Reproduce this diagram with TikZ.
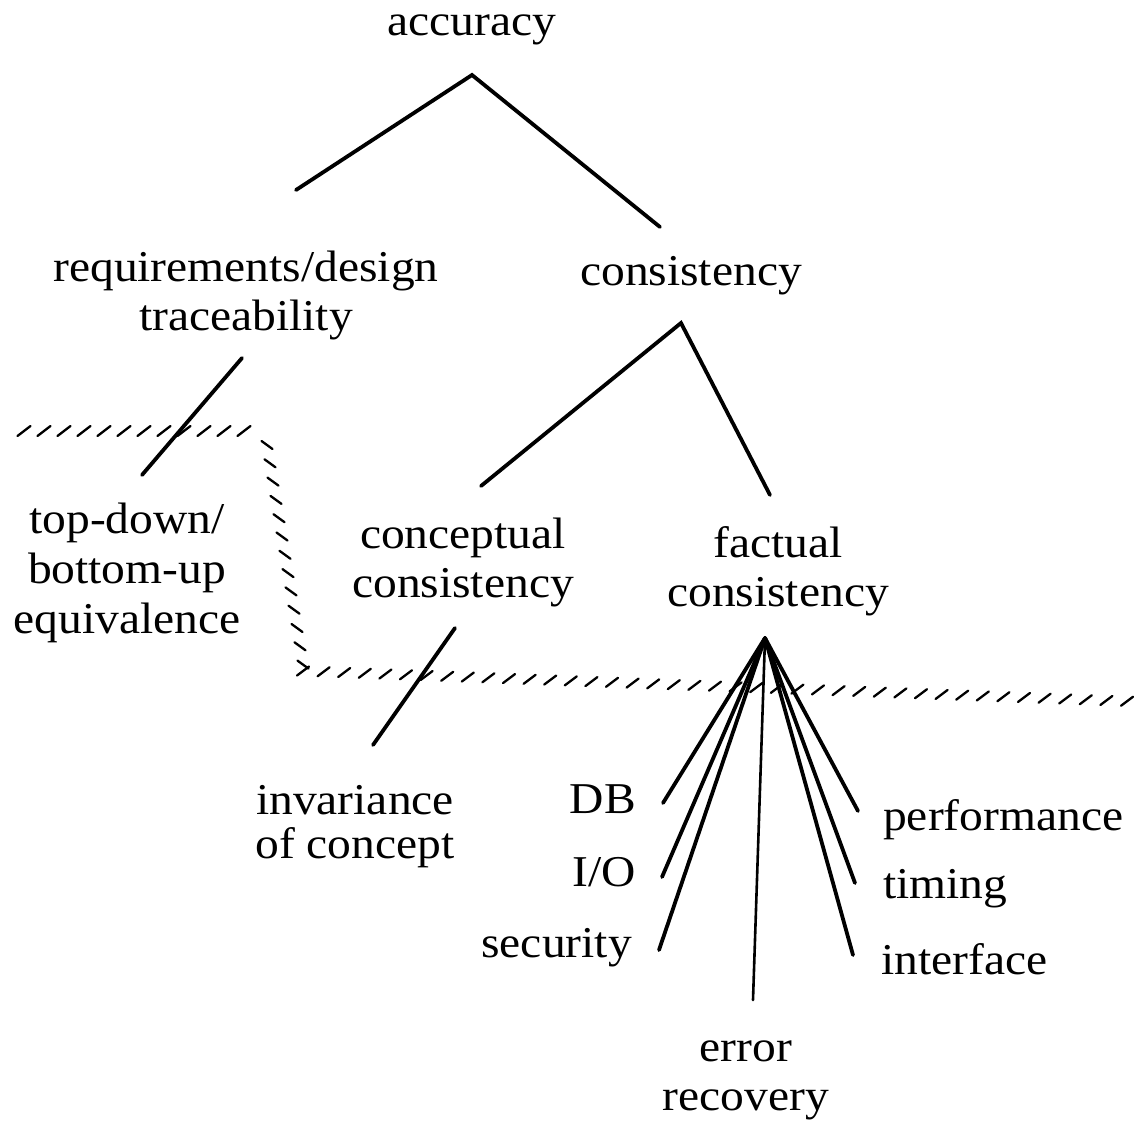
\documentclass[tikz,border=0pt]{standalone}
\usepackage{fontspec}
\setmainfont{Liberation Serif}[FakeStretch=1.08]
\begin{document}
\begin{tikzpicture}[x=1pt,y=-1pt,
  lbl/.style={font=\fontsize{44}{49}\selectfont, inner sep=0pt, align=center, anchor=base},
  branch/.style={line width=3.8pt, line cap=round},
  thinbranch/.style={line width=2.6pt, line cap=round},
  hatch/.style={line width=2.3pt, line cap=round}]
\useasboundingbox (0,0) rectangle (1136,1130);

% labels (the base anchor of a multi-line label sits on its last line)
\node[lbl] (acc)  at (472,35)  {accuracy};
\node[lbl] (req)  at (246,330) {requirements/design\\traceability};
\node[lbl] (cons) at (691,285) {consistency};
\node[lbl, font=\fontsize{44}{50}\selectfont] (tdb) at (127,633) {top-down/\\bottom-up\\equivalence};
\node[lbl] (ccon) at (463,597) {conceptual\\consistency};
\node[lbl] (fcon) at (778,606) {factual\\consistency};
\node[lbl, font=\fontsize{44}{44}\selectfont] (inv) at (355,858) {invariance\\of concept};
\node[lbl, anchor=base east] (db)  at (636,813) {DB};
\node[lbl, anchor=base east] (io)  at (636,886) {I/O};
\node[lbl, anchor=base east] (sec) at (632,957) {security};
\node[lbl] (err) at (746,1110) {error\\recovery};
\node[lbl, anchor=base west] (perf) at (883,830) {performance};
\node[lbl, anchor=base west] (tim)  at (883,898) {timing};
\node[lbl, anchor=base west] (intf) at (881,974) {interface};

% connector ends
\coordinate (acc-s)  at (472,75);
\coordinate (req-n)  at (296,190);
\coordinate (cons-n) at (660,227);
\coordinate (cons-s) at (681,323);
\coordinate (ccon-n) at (481,486);
\coordinate (fcon-n) at (770,495);
\coordinate (req-s)  at (242,358);
\coordinate (tdb-n)  at (142,475);
\coordinate (ccon-s) at (455,628);
\coordinate (inv-n)  at (373,745);
\coordinate (fcon-s) at (765,638);
\coordinate (db-e)   at (663,803);
\coordinate (io-e)   at (662,877);
\coordinate (sec-e)  at (659,950);
\coordinate (err-n)  at (753,1000);
\coordinate (intf-w) at (853,955);
\coordinate (tim-w)  at (855,883);
\coordinate (perf-w) at (858,811);

% tree branches
\draw[branch] (req-n) -- (acc-s) -- (cons-n);
\draw[branch] (ccon-n) -- (cons-s) -- (fcon-n);
\draw[branch] (req-s) -- (tdb-n);
\draw[branch] (ccon-s) -- (inv-n);
\foreach \e in {db-e,io-e,sec-e,intf-w,tim-w,perf-w}
  \draw[branch] (fcon-s) -- (\e);
\draw[thinbranch] (fcon-s) -- (err-n);

% hatched boundary: top run
\foreach \i in {0,...,11}
  \draw[hatch] ({24+20*\i-6.5},{431+5}) -- ++(13,-10);
% hatched boundary: descending run
\foreach \i in {0,...,12}
  \draw[hatch] ({267+3*\i-5.5},{445+18.3*\i-4}) -- ++(11,8);
% hatched boundary: bottom run
\foreach \i in {0,...,40}
  \draw[hatch] ({303+20.6*\i-6},{671+0.756*\i+4.5}) -- ++(12,-9);
\end{tikzpicture}
\end{document}
